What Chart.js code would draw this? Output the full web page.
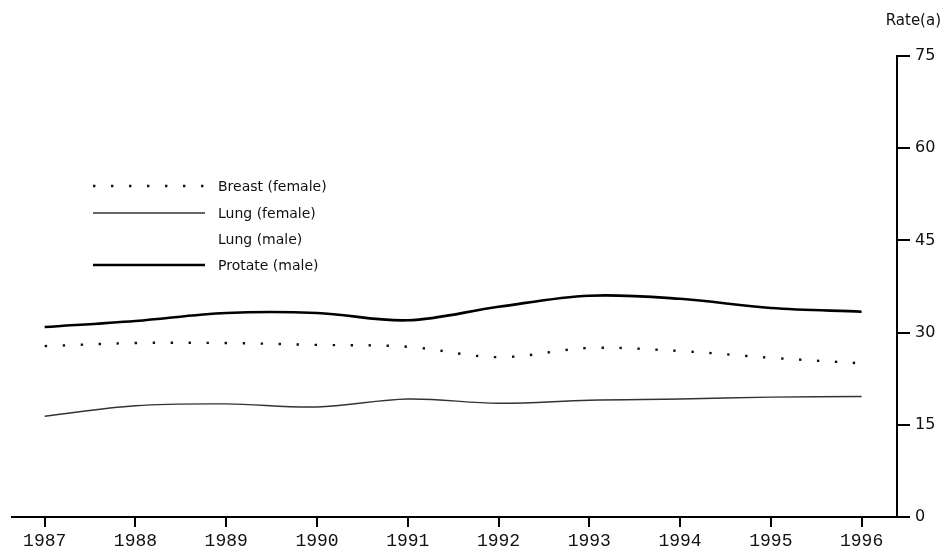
<html>
<head>
<title>Cancer rates 1987-1996</title>
<script src="https://cdn.jsdelivr.net/npm/chart.js@4/dist/chart.umd.min.js"></script>
<style>
  body { margin: 0; background: #fff; }
</style>
</head>
<body>
<canvas id="rate-chart" width="943" height="554"></canvas>
<script>
    // values
    var years = [1987, 1988, 1989, 1990, 1991, 1992, 1993, 1994, 1995, 1996];
    var breastFemale = [27.8, 28.3, 28.3, 28.0, 27.7, 26.0, 27.5, 27.0, 25.9, 25.0];
    var lungFemale = [16.4, 18.1, 18.4, 17.9, 19.2, 18.5, 19.0, 19.2, 19.5, 19.6];
    var lungMale = [null, null, null, null, null, null, null, null, null, null]; // no line printed in the figure
    var prostateMale = [30.9, 31.9, 33.2, 33.2, 32.0, 34.2, 36.0, 35.5, 34.0, 33.4];
    var rateTicks = [0, 15, 30, 45, 60, 75];

    function points(vals) {
        return years.map(function (yr, i) { return {x: yr, y: vals[i]}; });
    }

    // legend drawn inside the plot, like the original
    var insideLegend = {
        id: 'insideLegend',
        afterDatasetsDraw: function (chart) {
            var ctx = chart.ctx;
            var rows = [186, 213, 239, 265];
            ctx.save();
            chart.data.datasets.forEach(function (ds, i) {
                var y = rows[i];
                if (ds.legendLine) {
                    ctx.beginPath();
                    ctx.strokeStyle = ds.borderColor;
                    ctx.lineWidth = ds.borderWidth;
                    ctx.setLineDash(ds.borderDash || []);
                    ctx.moveTo(93, y);
                    ctx.lineTo(205, y);
                    ctx.stroke();
                }
                ctx.setLineDash([]);
                ctx.fillStyle = '#111';
                ctx.font = '14px "DejaVu Sans", sans-serif';
                ctx.textBaseline = 'middle';
                ctx.fillText(ds.label, 218, y + 1);
            });
            // axis title above the right-hand axis
            ctx.font = '15px "DejaVu Sans", sans-serif';
            ctx.textAlign = 'right';
            ctx.fillText('Rate(a)', 941, 21);
            ctx.restore();
        }
    };

    var ctx = document.getElementById('rate-chart').getContext('2d');
    new Chart(ctx, {
        type: 'line',
        data: {
            datasets: [
                {
                    label: 'Breast (female)',
                    data: points(breastFemale),
                    borderColor: '#111',
                    borderWidth: 2.4,
                    borderDash: [2.4, 15.6],
                    legendLine: true
                },
                {
                    label: 'Lung (female)',
                    data: points(lungFemale),
                    borderColor: '#333',
                    borderWidth: 1.4,
                    legendLine: true
                },
                {
                    label: 'Lung (male)',
                    data: points(lungMale),
                    borderColor: '#111',
                    borderWidth: 2,
                    legendLine: false
                },
                {
                    label: 'Protate (male)',
                    data: points(prostateMale),
                    borderColor: '#000',
                    borderWidth: 2.6,
                    legendLine: true
                }
            ]
        },
        options: {
            responsive: false,
            animation: false,
            layout: {padding: {left: 12, top: 56, right: 0, bottom: 0}},
            elements: {
                point: {radius: 0},
                line: {tension: 0.35, fill: false}
            },
            plugins: {
                legend: {display: false},
                tooltip: {enabled: false}
            },
            scales: {
                x: {
                    type: 'linear',
                    min: 1986.64,
                    max: 1996.39,
                    afterBuildTicks: function (scale) {
                        scale.ticks = years.map(function (v) { return {value: v}; });
                    },
                    afterFit: function (scale) { scale.height = 37; },
                    border: {display: true, color: '#000', width: 2},
                    grid: {drawOnChartArea: false, drawTicks: true, tickLength: 10, color: '#000', lineWidth: 2},
                    ticks: {
                        color: '#111',
                        padding: 3,
                        maxRotation: 0,
                        font: {family: '"Liberation Mono", "DejaVu Sans Mono", monospace', size: 18},
                        callback: function (v) { return String(v); }
                    }
                },
                y: {
                    position: 'right',
                    min: 0,
                    max: 75,
                    afterBuildTicks: function (scale) {
                        scale.ticks = rateTicks.map(function (v) { return {value: v}; });
                    },
                    afterFit: function (scale) { scale.width = 46; },
                    border: {display: true, color: '#000', width: 2},
                    grid: {drawOnChartArea: false, drawTicks: true, tickLength: 13, color: '#000', lineWidth: 2},
                    ticks: {
                        color: '#111',
                        padding: 5,
                        font: {family: '"DejaVu Sans", sans-serif', size: 16}
                    }
                }
            }
        },
        plugins: [insideLegend]
    });
</script>
</body>
</html>
